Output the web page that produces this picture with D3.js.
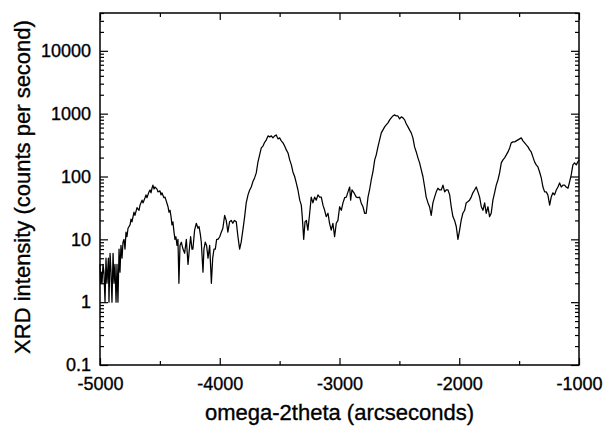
<!DOCTYPE html>
<html lang="en">
<head>
<meta charset="UTF-8">
<title>XRD scan</title>
<script src="https://cdn.jsdelivr.net/npm/d3@7"></script>
<style>
    body { margin: 0; background: #fff; }
    text { font-family: "Liberation Sans", Arial, sans-serif; fill: #000; stroke: #000; stroke-width: 0.35px; }
</style>
</head>
<body>
<script>
// omega-2theta position (arcsec) and measured intensity (counts per second)
const omega2theta = [
    -5000, -4995, -4986, -4983, -4975, -4967, -4958, -4950, -4942, -4930,
    -4925, -4916, -4908, -4900, -4891, -4883, -4875, -4866, -4858, -4850,
    -4841, -4833, -4825, -4816, -4808, -4800, -4791, -4783, -4775, -4766,
    -4749, -4741, -4733, -4716, -4708, -4691, -4674, -4666, -4649, -4641,
    -4624, -4616, -4608, -4591, -4582, -4574, -4566, -4558, -4549, -4541,
    -4524, -4516, -4499, -4491, -4483, -4466, -4457, -4449, -4432, -4424,
    -4415, -4407, -4399, -4391, -4382, -4374, -4366, -4357, -4349, -4341,
    -4332, -4321, -4307, -4293, -4279, -4265, -4251, -4243, -4232, -4224,
    -4210, -4196, -4182, -4173, -4162, -4154, -4140, -4132, -4121, -4110,
    -4098, -4084, -4070, -4059, -4048, -4037, -4026, -4015, -4000, -3987,
    -3974, -3959, -3946, -3932, -3918, -3904, -3891, -3877, -3862, -3848,
    -3834, -3821, -3807, -3792, -3779, -3764, -3750, -3737, -3723, -3709,
    -3695, -3681, -3667, -3653, -3639, -3625, -3611, -3597, -3583, -3569,
    -3556, -3541, -3528, -3514, -3500, -3486, -3472, -3458, -3444, -3430,
    -3416, -3402, -3389, -3374, -3361, -3347, -3332, -3319, -3311, -3299,
    -3288, -3277, -3264, -3249, -3236, -3222, -3208, -3194, -3180, -3166,
    -3152, -3138, -3124, -3111, -3096, -3083, -3069, -3055, -3041, -3027,
    -3013, -2999, -2985, -2971, -2957, -2943, -2929, -2915, -2907, -2896,
    -2879, -2860, -2846, -2832, -2819, -2804, -2790, -2777, -2762, -2749,
    -2735, -2721, -2706, -2693, -2679, -2665, -2651, -2637, -2623, -2610,
    -2595, -2581, -2568, -2554, -2540, -2526, -2512, -2498, -2484, -2470,
    -2456, -2443, -2428, -2415, -2401, -2387, -2373, -2359, -2345, -2331,
    -2317, -2303, -2289, -2276, -2261, -2248, -2234, -2220, -2206, -2192,
    -2178, -2164, -2150, -2136, -2122, -2109, -2094, -2080, -2067, -2053,
    -2039, -2025, -2011, -1997, -1984, -1970, -1955, -1942, -1927, -1914,
    -1900, -1886, -1872, -1858, -1844, -1830, -1816, -1802, -1788, -1775,
    -1760, -1747, -1733, -1719, -1705, -1691, -1677, -1663, -1649, -1635,
    -1621, -1607, -1593, -1579, -1566, -1552, -1537, -1524, -1510, -1496,
    -1482, -1468, -1454, -1440, -1426, -1412, -1399, -1385, -1371, -1357,
    -1343, -1329, -1315, -1301, -1287, -1274, -1260, -1245, -1232, -1218,
    -1204, -1190, -1176, -1162, -1148, -1134, -1120, -1107, -1092, -1078,
    -1065, -1051, -1037, -1023, -1009, -1000
]
const intensity = [
    4, 2, 3, 2, 4, 3, 1, 5, 2, 5,
    1, 6, 3, 1, 6, 2, 4, 1, 4, 1,
    7, 3, 8, 5, 9, 10, 7, 13, 11, 15,
    17, 21, 19, 27, 24, 32, 29, 35, 42, 38,
    46, 51, 46, 57, 61, 55, 65, 73, 63, 68,
    63, 57, 59, 51, 55, 46, 47, 42, 33, 27,
    29, 23, 17, 19, 13, 10, 11, 8, 10, 2,
    8, 9, 7, 6, 10, 4, 8, 11, 7, 7,
    14, 18, 15, 16, 12, 9, 3, 7, 9, 8,
    5, 8, 2, 5, 7, 7, 10, 10, 11, 13,
    15, 24, 20, 13, 19, 20, 18, 20, 19, 11,
    7, 9, 14, 23, 38, 51, 61, 68, 83, 95,
    114, 170, 221, 285, 305, 350, 383, 443, 427, 443,
    412, 443, 459, 397, 412, 369, 343, 306, 265, 237,
    184, 153, 118, 99, 79, 61, 42, 35, 23, 10,
    19, 20, 14, 26, 47, 38, 47, 42, 51, 47,
    47, 35, 29, 23, 26, 18, 14, 18, 11, 18,
    20, 33, 29, 38, 46, 47, 57, 68, 42, 61,
    55, 47, 46, 47, 38, 33, 26, 26, 47, 61,
    88, 118, 184, 221, 296, 383, 494, 552, 617, 663,
    713, 797, 857, 920, 957, 920, 920, 826, 890, 857,
    797, 690, 617, 552, 494, 412, 296, 246, 198, 165,
    127, 99, 68, 47, 38, 33, 24, 38, 47, 57,
    65, 61, 61, 73, 57, 61, 61, 51, 33, 23,
    20, 16, 10, 14, 20, 26, 29, 38, 40, 42,
    47, 55, 61, 68, 57, 47, 33, 29, 38, 26,
    33, 23, 26, 42, 55, 73, 88, 114, 165, 184,
    198, 221, 246, 285, 343, 356, 356, 369, 383, 397,
    412, 369, 343, 318, 296, 265, 246, 205, 171, 153,
    142, 118, 95, 68, 57, 57, 51, 35, 47, 55,
    51, 61, 68, 79, 68, 73, 73, 68, 65, 83,
    106, 153, 165, 153, 171, 184
]

const xMajor = [-5000, -4000, -3000, -2000, -1000]
const xMinor = [-4500, -3500, -2500, -1500]
const yMajor = [0.1, 1, 10, 100, 1000, 10000]
const yMinor = [0.2, 0.3, 0.4, 0.5, 0.6, 0.7, 0.8, 0.9,
    2, 3, 4, 5, 6, 7, 8, 9,
    20, 30, 40, 50, 60, 70, 80, 90,
    200, 300, 400, 500, 600, 700, 800, 900,
    2000, 3000, 4000, 5000, 6000, 7000, 8000, 9000,
    20000, 30000, 40000]

const width = 603
const height = 428
const margin = {top: 13, right: 24, bottom: 63, left: 100}
const w = width - margin.left - margin.right
const h = height - margin.top - margin.bottom

const data = omega2theta.map((d, i) => ({x: d, y: intensity[i]}))

const x = d3.scaleLinear().domain([-5000, -1000]).range([0, w])
const y = d3.scaleLog().domain([0.1, 40000]).range([h, 0])

const svg = d3.select('body')
    .append('svg')
    .attr('width', width)
    .attr('height', height)

const g = svg.append('g')
    .attr('transform', `translate(${margin.left},${margin.top})`)

// data line
const line = d3.line()
    .x(d => x(d.x))
    .y(d => y(d.y))

g.append('path')
    .datum(data)
    .attr('d', line)
    .attr('fill', 'none')
    .attr('stroke', '#000')
    .attr('stroke-width', 1.25)
    .attr('stroke-linejoin', 'round')

// ticks pointing inward on all four sides
function styleAxis(sel) {
    sel.select('.domain').remove()
    sel.selectAll('line').attr('stroke', '#000').attr('stroke-width', 1.2)
    sel.selectAll('text').style('font-size', '18px').attr('fill', '#000')
}

g.append('g')
    .attr('transform', `translate(0,${h})`)
    .call(d3.axisBottom(x).tickValues(xMajor).tickSize(-7).tickPadding(12).tickFormat(d => d))
    .call(styleAxis)
g.append('g')
    .attr('transform', `translate(0,${h})`)
    .call(d3.axisBottom(x).tickValues(xMinor).tickSize(-4).tickFormat(''))
    .call(styleAxis)
g.append('g')
    .call(d3.axisTop(x).tickValues(xMajor).tickSize(-7).tickFormat(''))
    .call(styleAxis)
g.append('g')
    .call(d3.axisTop(x).tickValues(xMinor).tickSize(-4).tickFormat(''))
    .call(styleAxis)

g.append('g')
    .call(d3.axisLeft(y).tickValues(yMajor).tickSize(-8).tickPadding(9).tickFormat(d => String(d)))
    .call(styleAxis)
g.append('g')
    .call(d3.axisLeft(y).tickValues(yMinor).tickSize(-4).tickFormat(''))
    .call(styleAxis)
g.append('g')
    .attr('transform', `translate(${w},0)`)
    .call(d3.axisRight(y).tickValues(yMajor).tickSize(-8).tickFormat(''))
    .call(styleAxis)
g.append('g')
    .attr('transform', `translate(${w},0)`)
    .call(d3.axisRight(y).tickValues(yMinor).tickSize(-4).tickFormat(''))
    .call(styleAxis)

// frame
g.append('rect')
    .attr('width', w)
    .attr('height', h)
    .attr('fill', 'none')
    .attr('stroke', '#000')
    .attr('stroke-width', 1.5)

// axis titles
svg.append('text')
    .attr('x', margin.left + w / 2)
    .attr('y', 420)
    .attr('text-anchor', 'middle')
    .style('font-size', '22px')
    .text('omega-2theta (arcseconds)')

svg.append('text')
    .attr('transform', `translate(30,${margin.top + h / 2 - 2}) rotate(-90)`)
    .attr('text-anchor', 'middle')
    .style('font-size', '22px')
    .text('XRD intensity (counts per second)')
</script>
</body>
</html>
